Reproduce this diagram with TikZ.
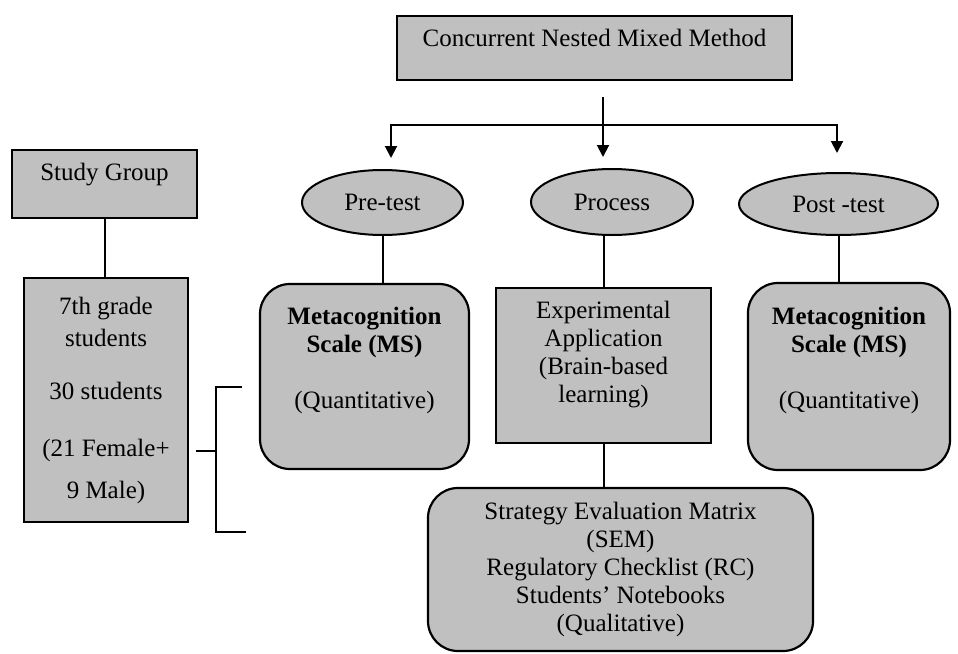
\documentclass[tikz,border=0pt]{standalone}
\usepackage{fontspec}
\setmainfont{Liberation Serif}
\usepackage{tikz}
\usetikzlibrary{shapes.geometric}
\usetikzlibrary{arrows.meta}
\definecolor{boxgray}{RGB}{192,192,192}

\begin{document}
\begin{tikzpicture}[x=1pt,y=-1pt,
    every node/.style={font=\fontsize{25}{28}\selectfont, inner sep=0pt, align=center},
    sqbox/.style={draw, fill=boxgray, line width=2.2pt},
    rbox/.style={draw, fill=boxgray, line width=2.2pt, rounded corners=30pt},
    oval/.style={draw, fill=boxgray, ellipse, line width=2pt},
    link/.style={line width=2pt},
    pointer/.style={line width=2pt, -{Triangle[length=12pt,width=12pt]}}]
  \useasboundingbox (0,0) rectangle (958,653);
  % design and study group
  \node[sqbox, minimum width=395, minimum height=64, text height=17pt, text depth=20pt] (cnmm) at (594.5,48) {Concurrent Nested Mixed Method};
  \node[sqbox, minimum width=185, minimum height=68, text height=17pt, text depth=25pt] (sg) at (104.5,184) {Study Group};
  \node[sqbox, minimum width=164, minimum height=244] (students) at (106,400)
    {7th grade\\[4pt]students\\[25pt]30 students\\[29pt](21 Female+\\[14pt]9 Male)};
  % phases
  \node[oval, minimum width=161, minimum height=65] (pre) at (382.5,202.5) {Pre-test};
  \node[oval, minimum width=162, minimum height=66] (proc) at (612,202) {Process};
  \node[oval, minimum width=199, minimum height=62] (post) at (838.5,204) {Post -test};
  \node[rbox, minimum width=209, minimum height=185] (ms1) at (364.5,376.5)
    {\textbf{Metacognition}\\\textbf{Scale (MS)}\\[28pt](Quantitative)\\ \strut};
  \node[sqbox, minimum width=215, minimum height=155] (exp) at (603.5,365.5)
    {Experimental\\Application\\(Brain-based\\learning)\\[-10pt]\strut};
  \node[rbox, minimum width=202, minimum height=187] (ms2) at (849,376.5)
    {\textbf{Metacognition}\\\textbf{Scale (MS)}\\[28pt](Quantitative)\\ \strut};
  \node[rbox, minimum width=385, minimum height=163] (sem) at (620.5,569.5)
    {Strategy Evaluation Matrix\\(SEM)\\Regulatory Checklist (RC)\\Students' Notebooks\\(Qualitative)};
  % arrows from the design
  \coordinate (stem) at (603,97);
  \coordinate (split) at (603,125);
  \coordinate (pretip) at (391,158);
  \coordinate (proctip) at (603,157);
  \coordinate (posttip) at (837,153);
  \draw[pointer] (split) -| (pretip);
  \draw[pointer] (split) -| (posttip);
  \draw[pointer] (stem) -- (proctip);
  % links
  \draw[link] (sg.south) -- (sg.south |- students.north);
  \draw[link] (pre.south) -- (pre.south |- ms1.north);
  \draw[link] (exp.north |- proc.south) -- (exp.north);
  \draw[link] (post.south) -- (post.south |- ms2.north);
  \draw[link] (exp.south) -- (exp.south |- sem.north);
  % bracket
  \coordinate (brTop) at (242,387);
  \coordinate (brBot) at (246,532);
  \coordinate (brMid) at (216,451);
  \draw[link] (brTop) -| (brMid |- brBot) -- (brBot);
  \draw[link] (brMid) -- ++(-20,0);
\end{tikzpicture}
\end{document}
